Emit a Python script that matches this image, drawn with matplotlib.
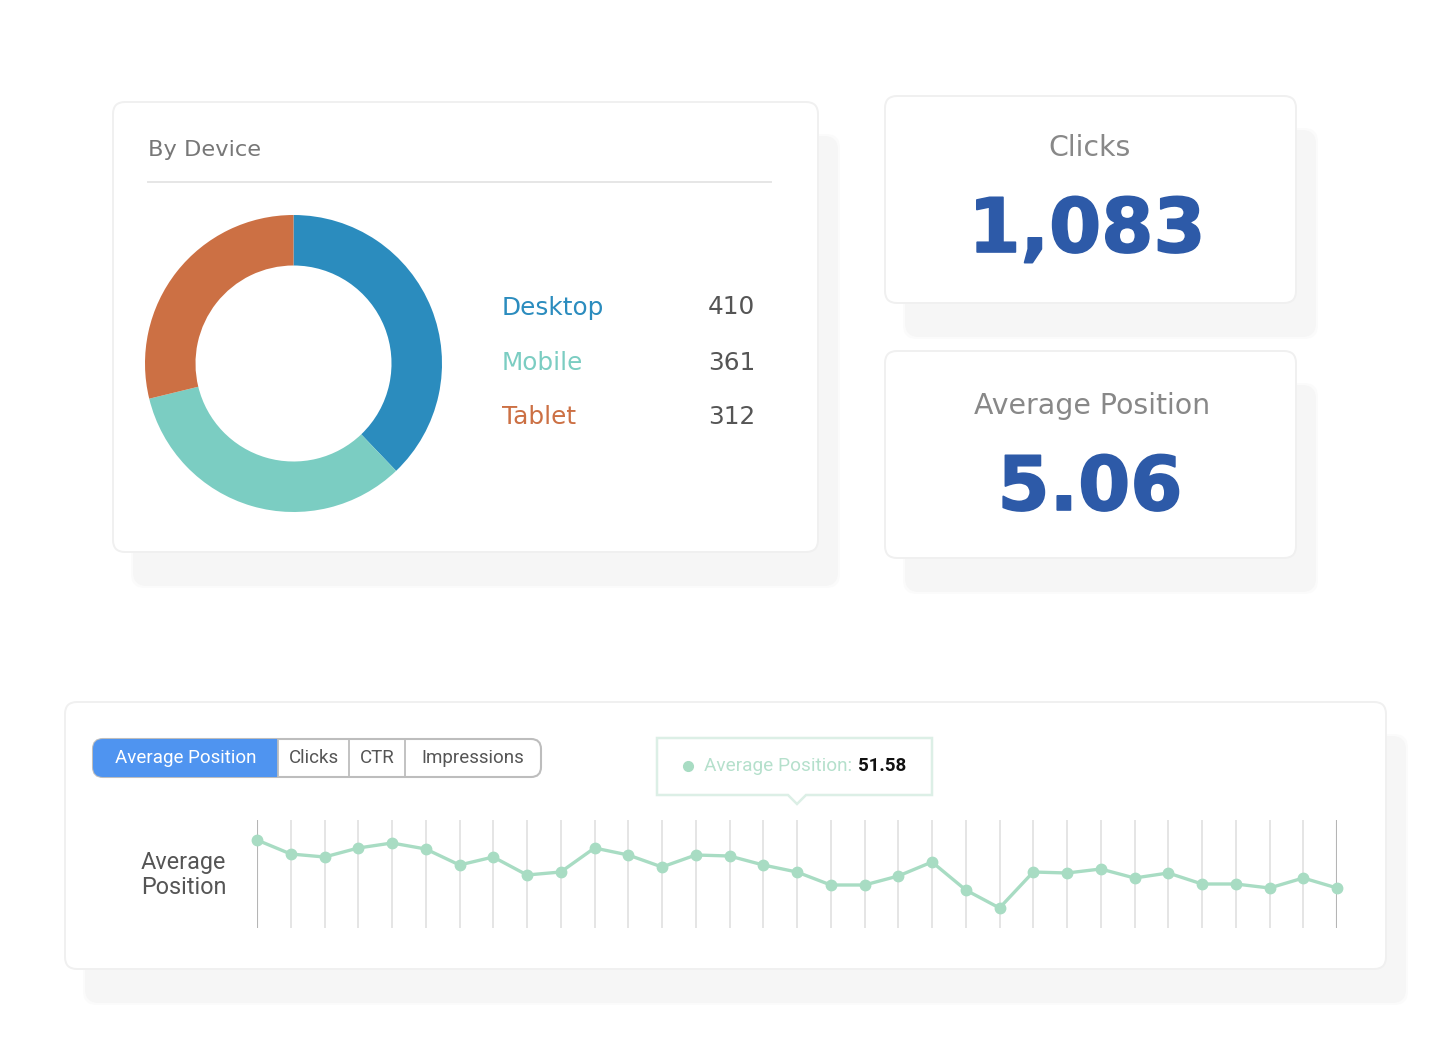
import matplotlib
matplotlib.use("Agg")
from matplotlib import pyplot as plt
from matplotlib import patheffects
from matplotlib.patches import FancyBboxPatch, Rectangle, Polygon

devices = ["Desktop", "Mobile", "Tablet"]
device_values = [410, 361, 312]
device_colors = ["#2b8cbe", "#7bcdc2", "#cc7044"]

tabs = ["Average Position", "Clicks", "CTR", "Impressions"]
clicks = "1,083"
avg_position = "5.06"

# scale anchored on the tooltip value
position_values = [67.6, 60.6, 59.1, 63.6, 66.1, 63.1, 55.1, 59.1, 50.1, 51.6, 63.6,
                   60.1, 54.1, 60.1, 59.6, 55.1, 51.58, 45.1, 45.1, 49.6, 56.6, 42.6,
                   33.6, 51.6, 51.1, 53.1, 48.6, 51.1, 45.6, 45.6, 43.6, 48.6, 43.6]

W, H = 1450, 1060
NARROW = ["Roboto", "DejaVu Sans"]

fig = plt.figure(figsize=(W / 100, H / 100), dpi=100, facecolor="white")

# full figure axes in pixel coordinates for cards and text
bg = fig.add_axes([0, 0, 1, 1])
bg.set_xlim(0, W)
bg.set_ylim(H, 0)
bg.axis("off")


def card(x0, y0, x1, y1):
    # soft edge on the shadow, two layers
    for grow, col in [(2, "#fbfbfb"), (0, "#f6f6f6")]:
        bg.add_patch(FancyBboxPatch((x0 + 20 - grow, y0 + 34 - grow), x1 - x0 + 2 * grow, y1 - y0 + 2 * grow,
                                    boxstyle="round,pad=0,rounding_size=14",
                                    fc=col, ec="none", zorder=1))
    bg.add_patch(FancyBboxPatch((x0, y0), x1 - x0, y1 - y0,
                                boxstyle="round,pad=0,rounding_size=12",
                                fc="white", ec="#f0f0f0", lw=1.4, zorder=2))


card(113, 102, 818, 552)
card(885, 96, 1296, 303)
card(885, 351, 1296, 558)
card(65, 702, 1386, 969)

# device card
bg.text(148, 150, "By Device", fontsize=16.2, color="#777777", va="center", zorder=3)
bg.plot([148, 771], [182, 182], color="#e6e6e6", lw=1.4, zorder=3)

row_y = [307.5, 363.5, 417.5]
for name, val, col, y in zip(devices, device_values, device_colors, row_y):
    bg.text(502, y, name, fontsize=17.8, color=col, va="center", zorder=3)
    bg.text(755, y, str(val), fontsize=17.8, color="#555555", va="center", ha="right", zorder=3)

# metric cards
heavy = [patheffects.withStroke(linewidth=1.2, foreground="#2d5aa8")]
bg.text(1090, 148, "Clicks", fontsize=20.4, color="#888888", ha="center", va="center", zorder=3)
bg.text(1087, 252, clicks, fontsize=54, color="#2d5aa8", ha="center", va="baseline",
        fontweight="bold", zorder=3, path_effects=heavy)
bg.text(1092, 406, "Average Position", fontsize=20.4, color="#888888", ha="center", va="center", zorder=3)
bg.text(1090, 510, avg_position, fontsize=54, color="#2d5aa8", ha="center", va="baseline",
        fontweight="bold", zorder=3, path_effects=heavy)

# tab buttons
tab_edges = [93, 278, 349, 405, 541]
bg.add_patch(FancyBboxPatch((93, 739), 448, 38, boxstyle="round,pad=0,rounding_size=10",
                            fc="white", ec="#bdbdbd", lw=1.5, zorder=3))
blue = FancyBboxPatch((93, 739), 185 + 12, 38, boxstyle="round,pad=0,rounding_size=10",
                      fc="#4f94f0", ec="none", zorder=4)
bg.add_patch(blue)
blue.set_clip_path(Rectangle((93, 739), 185, 38, transform=bg.transData))
for xe in tab_edges[1:-1]:
    bg.plot([xe, xe], [739, 777], color="#bdbdbd", lw=1.3, zorder=5)
for i, tab in enumerate(tabs):
    bg.text((tab_edges[i] + tab_edges[i + 1]) / 2, 758, tab, fontsize=13.5, family=NARROW,
            color="white" if i == 0 else "#555555", ha="center", va="center", zorder=6)

# tooltip
bg.add_patch(Polygon([(657, 738), (932, 738), (932, 795), (806, 795), (797, 804),
                      (788, 795), (657, 795)], closed=True, fc="white", ec="#dcefe6",
                     lw=1.8, zorder=3))
bg.plot([688], [765.5], "o", ms=7, color="#a8dcc3", zorder=4)
bg.text(704, 766, "Average Position:", fontsize=13.7, family=NARROW, color="#b5e0cc",
        va="center", zorder=4)
bg.text(906, 766, "51.58", fontsize=13.5, family=NARROW, color="#111111", ha="right",
        va="center", fontweight="bold", zorder=4)

bg.text(141, 862, "Average", fontsize=16.8, family=NARROW, color="#555555", va="center", zorder=4)
bg.text(141, 887, "Position", fontsize=16.8, family=NARROW, color="#555555", va="center", zorder=4)

# donut
cx, cy, r = 293.5, 363.5, 148.5
pie_ax = fig.add_axes([(cx - r) / W, 1 - (cy + r) / H, 2 * r / W, 2 * r / H], zorder=5)
pie_ax.pie(device_values, colors=device_colors, startangle=90, counterclock=False, radius=1,
           wedgeprops=dict(width=50.5 / 148.5, edgecolor="none"))
pie_ax.set_xlim(-1, 1)
pie_ax.set_ylim(-1, 1)

# line chart
x0, x1, y0, y1 = 257, 1337, 820, 928
ax = fig.add_axes([x0 / W, 1 - y1 / H, (x1 - x0) / W, (y1 - y0) / H], zorder=5)
ax.patch.set_alpha(0)
xs = list(range(len(position_values)))
ax.set_xlim(0, len(xs) - 1)
ax.set_ylim(23.6, 77.6)
for i in xs:
    edge = i == 0 or i == len(xs) - 1
    ax.axvline(i, color="#b5b5b5" if edge else "#e0e0e0", lw=1.5 if edge else 1.2, zorder=1)
ax.plot(xs, position_values, "-o", color="#a8dcc3", lw=2.4, ms=7.5, clip_on=False, zorder=3)
ax.axis("off")

fig.savefig("out.png", dpi=100)
